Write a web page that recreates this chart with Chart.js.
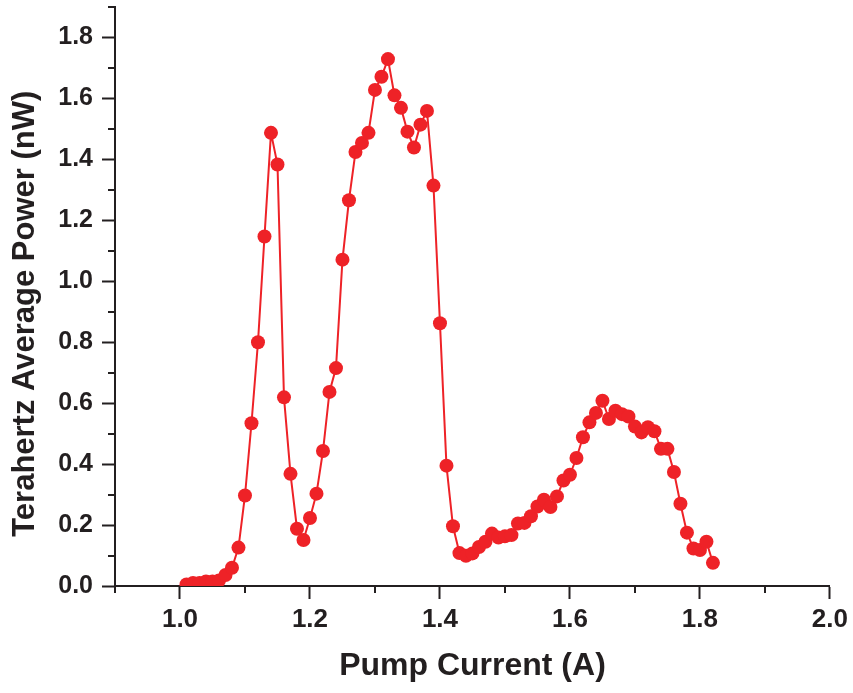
<!DOCTYPE html>
<html>
<head>
<meta charset="utf-8">
<title>Terahertz Average Power vs Pump Current</title>
<script src="https://cdn.jsdelivr.net/npm/chart.js@4.4.1/dist/chart.umd.min.js"></script>
<style>
    body { margin: 0; background: #ffffff; }
    #wrap { width: 853px; height: 693px; }
</style>
</head>
<body>
<div id="wrap"><canvas id="thzChart" width="853" height="693"></canvas></div>
<script>
// Pump current (A) for each measurement
const pumpCurrent = [
    1.01, 1.02, 1.03, 1.04, 1.05, 1.06, 1.07, 1.08, 1.09, 1.10,
    1.11, 1.12, 1.13, 1.14, 1.15, 1.16, 1.17, 1.18, 1.19, 1.20,
    1.21, 1.22, 1.23, 1.24, 1.25, 1.26, 1.27, 1.28, 1.29, 1.30,
    1.31, 1.32, 1.33, 1.34, 1.35, 1.36, 1.37, 1.38, 1.39, 1.40,
    1.41, 1.42, 1.43, 1.44, 1.45, 1.46, 1.47, 1.48, 1.49, 1.50,
    1.51, 1.52, 1.53, 1.54, 1.55, 1.56, 1.57, 1.58, 1.59, 1.60,
    1.61, 1.62, 1.63, 1.64, 1.65, 1.66, 1.67, 1.68, 1.69, 1.70,
    1.71, 1.72, 1.73, 1.74, 1.75, 1.76, 1.77, 1.78, 1.79, 1.80,
    1.81, 1.82
];

// Terahertz average power (nW)
const thzPower = [
    0.005, 0.010, 0.010, 0.015, 0.015, 0.018, 0.036, 0.060, 0.126, 0.297,
    0.534, 0.800, 1.147, 1.487, 1.383, 0.619, 0.368, 0.188, 0.151, 0.223,
    0.303, 0.443, 0.637, 0.715, 1.071, 1.266, 1.424, 1.454, 1.487, 1.628,
    1.671, 1.729, 1.610, 1.569, 1.491, 1.439, 1.514, 1.559, 1.314, 0.862,
    0.395, 0.196, 0.108, 0.099, 0.107, 0.128, 0.145, 0.172, 0.159, 0.163,
    0.167, 0.205, 0.207, 0.229, 0.261, 0.283, 0.259, 0.294, 0.346, 0.365,
    0.420, 0.488, 0.537, 0.568, 0.608, 0.548, 0.575, 0.564, 0.556, 0.523,
    0.504, 0.521, 0.508, 0.450, 0.450, 0.374, 0.270, 0.175, 0.123, 0.118,
    0.145, 0.076
];

// Axis ranges / tick spacing
const xRange = [0.9, 2.0];
const yRange = [0, 1.9];
const tickStep = 0.1;

const INK = '#231f20';
const RED = '#ee2227';
const FONT = '"Liberation Sans", Arial, Helvetica, sans-serif';

// labelled ticks are every 0.2, the ones between are minor
function isMajor(v) {
    return Math.round(v * 10) % 2 === 0;
}

// draw the short minor tick marks (chart.js only has one tick length)
const minorTicks = {
    id: 'minorTicks',
    afterDraw(chart) {
        const ctx = chart.ctx;
        const x = chart.scales.x;
        const y = chart.scales.y;
        ctx.save();
        ctx.strokeStyle = INK;
        ctx.lineWidth = 2;
        ctx.beginPath();
        x.ticks.forEach(t => {
            if (isMajor(t.value)) return;
            const px = Math.round(x.getPixelForValue(t.value));
            ctx.moveTo(px, x.top);
            ctx.lineTo(px, x.top + 7);
        });
        y.ticks.forEach(t => {
            if (isMajor(t.value)) return;
            const py = Math.round(y.getPixelForValue(t.value));
            ctx.moveTo(y.right - 7, py);
            ctx.lineTo(y.right, py);
        });
        ctx.stroke();
        ctx.restore();
    }
};

const points = pumpCurrent.map((c, i) => ({ x: c, y: thzPower[i] }));

new Chart(document.getElementById('thzChart'), {
    type: 'scatter',
    data: {
        datasets: [{
            data: points,
            showLine: true,
            borderColor: RED,
            borderWidth: 2,
            backgroundColor: RED,
            pointBackgroundColor: RED,
            pointBorderColor: RED,
            pointBorderWidth: 0,
            pointRadius: 7,
            pointHoverRadius: 7,
            tension: 0
        }]
    },
    options: {
        responsive: false,
        animation: false,
        events: [],
        layout: { padding: { top: 5, right: 22, left: 0, bottom: 0 } },
        plugins: {
            legend: { display: false },
            tooltip: { enabled: false }
        },
        scales: {
            x: {
                type: 'linear',
                min: xRange[0],
                max: xRange[1],
                afterFit(scale) { scale.height = 107; },
                border: { color: INK, width: 2 },
                grid: {
                    drawOnChartArea: false,
                    drawTicks: true,
                    tickLength: 13,
                    tickWidth: 2,
                    tickColor: c => isMajor(c.tick.value) ? INK : 'rgba(0,0,0,0)'
                },
                ticks: {
                    stepSize: tickStep,
                    autoSkip: false,
                    maxRotation: 0,
                    padding: 5,
                    color: INK,
                    font: { family: FONT, size: 26, weight: 'bold' },
                    callback: v => isMajor(v) ? Number(v).toFixed(1) : ''
                },
                title: {
                    display: true,
                    text: 'Pump Current (A)',
                    color: INK,
                    font: { family: FONT, size: 32, weight: 'bold' },
                    padding: { top: 0, bottom: 8 }
                }
            },
            y: {
                type: 'linear',
                min: yRange[0],
                max: yRange[1],
                afterFit(scale) {
                    scale.width = 115;
                    // top tick (1.9) has no label, so no room is needed above it
                    scale.paddingTop = 0;
                },
                border: { color: INK, width: 2 },
                grid: {
                    drawOnChartArea: false,
                    drawTicks: true,
                    tickLength: 13,
                    tickWidth: 2,
                    tickColor: c => isMajor(c.tick.value) ? INK : 'rgba(0,0,0,0)'
                },
                ticks: {
                    stepSize: tickStep,
                    autoSkip: false,
                    padding: 9,
                    color: INK,
                    font: { family: FONT, size: 25, weight: 'bold' },
                    callback: v => isMajor(v) ? Number(v).toFixed(1) : ''
                },
                title: {
                    display: true,
                    // trailing spaces nudge the title a bit lower, like the original
                    text: 'Terahertz Average Power (nW)    ',
                    color: INK,
                    font: { family: FONT, size: 31, weight: 'bold' },
                    padding: { top: 7, bottom: 0 }
                }
            }
        }
    },
    plugins: [minorTicks]
});
</script>
</body>
</html>
